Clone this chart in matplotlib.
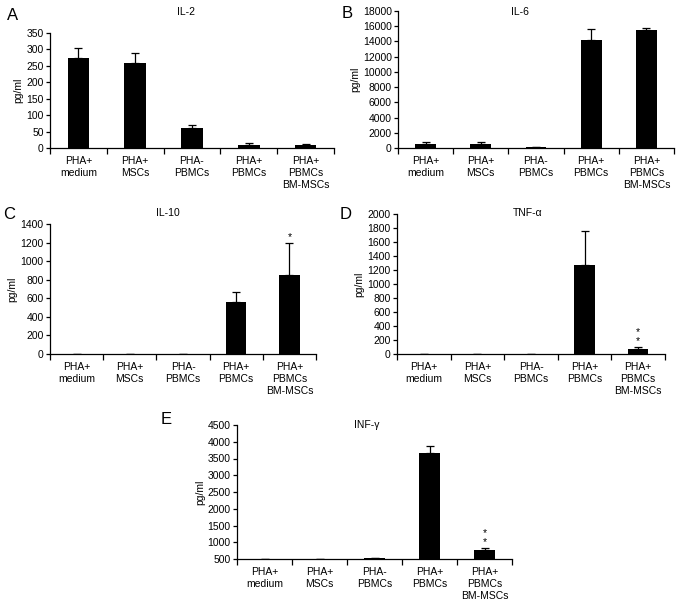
import matplotlib.pyplot as plt
import numpy as np

plt.rcParams['font.family'] = ['Liberation Sans', 'DejaVu Sans']

"""
Data read off the figure
"""
groups = ['PHA+\nmedium', 'PHA+\nMSCs', 'PHA-\nPBMCs', 'PHA+\nPBMCs', 'PHA+\nPBMCs\nBM-MSCs']

il2 = [275, 258, 62, 8, 8]
il2_err = [30, 32, 8, 8, 5]

il6 = [500, 480, 80, 14250, 15450]
il6_err = [280, 260, 0, 1450, 350]

il10 = [0, 0, 5, 565, 855]
il10_err = [0, 0, 0, 100, 340]

tnf = [5, 5, 5, 1265, 70]
tnf_err = [0, 0, 0, 495, 30]

ifn = [500, 500, 520, 3650, 765]
ifn_err = [0, 0, 0, 230, 60]

stars = {'C': [0, 0, 0, 0, 1], 'D': [0, 0, 0, 0, 2], 'E': [0, 0, 0, 0, 2]}

"""
Layout (figure fractions, from pixel positions)
"""
W, H = 677, 611
def box(x0, x1, ytop, ybot):
    return [x0 / W, 1 - ybot / H, (x1 - x0) / W, (ybot - ytop) / H]

fs = 7.5
fig = plt.figure(figsize=(W / 100, H / 100), dpi=100)

panels = [
    ('A', 'IL-2', il2, il2_err, (0, 350), 50, box(50, 334, 33, 148), (186, 12), (13, 16)),
    ('B', 'IL-6', il6, il6_err, (0, 18000), 2000, box(398, 674, 11, 148), (520, 12), (347, 14)),
    ('C', 'IL-10', il10, il10_err, (0, 1400), 200, box(50, 316, 224, 354), (168, 213), (9, 215)),
    ('D', 'TNF-\u03b1', tnf, tnf_err, (0, 2000), 200, box(397, 665, 214, 354), (528, 213), (346, 215)),
    ('E', 'INF-\u03b3', ifn, ifn_err, (500, 4500), 500, box(237, 512, 425, 559), (367, 425), (166, 419)),
]

x = np.arange(1, len(groups) + 1)
for letter, title, vals, errs, ylim, step, rect, tpos, lpos in panels:
    ax = fig.add_axes(rect)
    lower = [0] * len(errs)
    ax.bar(x, vals, width=0.38, color='black', zorder=2)
    ax.errorbar(x, vals, yerr=[lower, errs], fmt='none', ecolor='black',
                elinewidth=0.9, capsize=3, capthick=0.9, zorder=3)
    ax.set_xlim(0.5, 5.5)
    ax.set_ylim(*ylim)
    ax.set_yticks(np.arange(ylim[0], ylim[1] + step / 2, step))
    ax.set_xticks(x)
    ax.set_xticklabels(groups, fontsize=fs, linespacing=1.25)
    ax.set_xticks(np.arange(0.5, 5.6, 1), minor=True)
    ax.tick_params(axis='x', which='major', length=0, pad=6)
    ax.tick_params(axis='x', which='minor', length=4, width=0.9, direction='out')
    ax.tick_params(axis='y', labelsize=fs, length=3, width=0.9, pad=1.5)
    for s in ['top', 'right']:
        ax.spines[s].set_visible(False)
    for s in ['left', 'bottom']:
        ax.spines[s].set_linewidth(0.9)
    ax.set_ylabel('pg/ml', fontsize=fs, labelpad=2)
    if letter in stars:
        for xi, v, e, n in zip(x, vals, errs, stars[letter]):
            if n > 0:
                ax.annotate('*\n' * (n - 1) + '*', (xi, v + e), xytext=(0, 1),
                            textcoords='offset points', ha='center', va='bottom',
                            fontsize=fs, linespacing=0.8)
    fig.text(tpos[0] / W, 1 - tpos[1] / H, title, fontsize=fs, ha='center', va='center')
    fig.text(lpos[0] / W, 1 - lpos[1] / H, letter, fontsize=12, ha='center', va='center')

fig.savefig('out.png', dpi=100)
